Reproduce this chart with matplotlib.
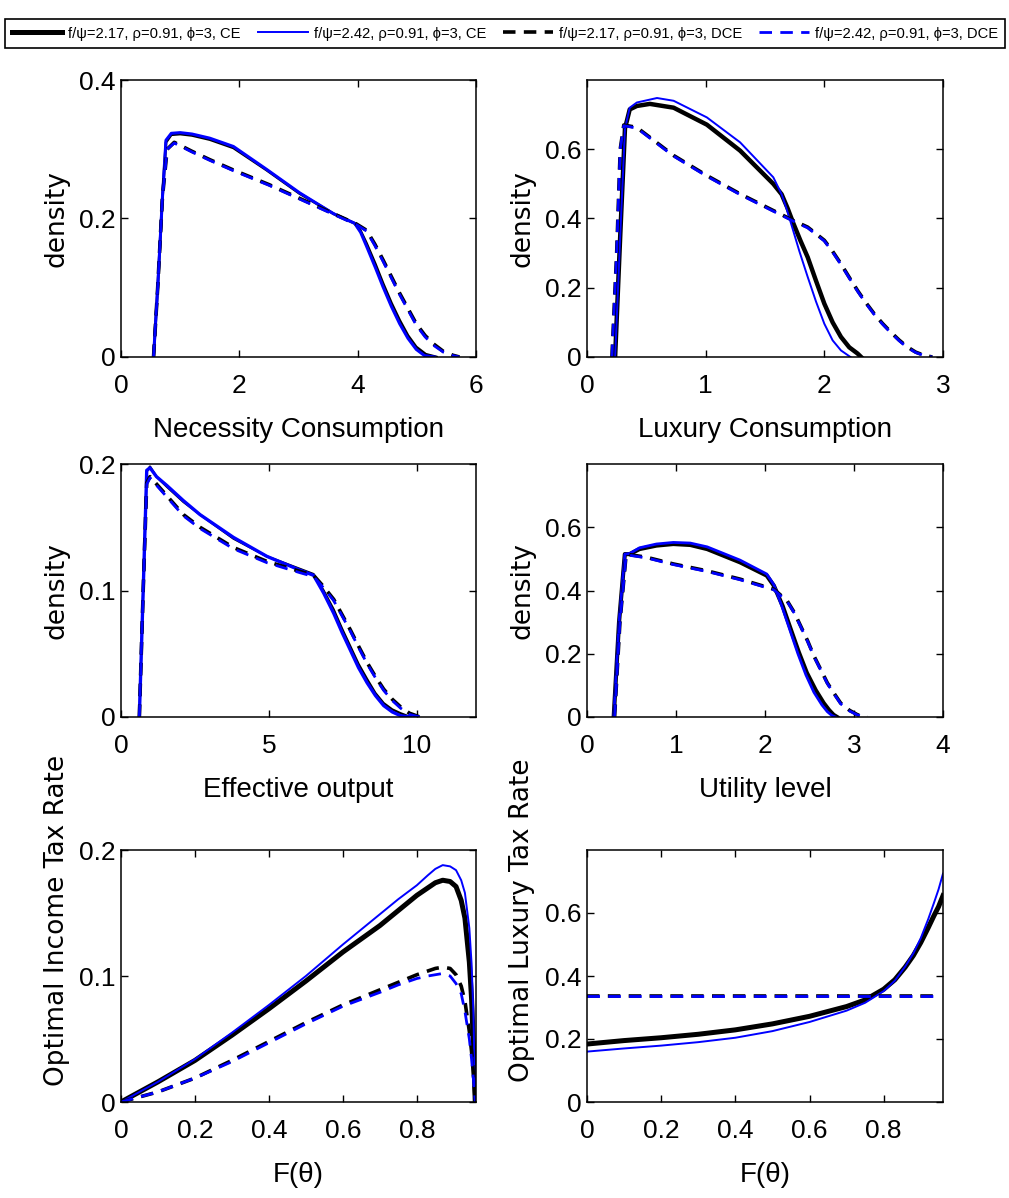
import matplotlib
matplotlib.use("Agg")
import matplotlib.pyplot as plt
from matplotlib import font_manager

# MATLAB-style narrow Helvetica if available, else plain Liberation Sans
names = {f.name for f in font_manager.fontManager.ttflist}
if 'Liberation Sans Narrow' in names:
    BASE = 'Liberation Sans Narrow'
    TICK_FS = 22
    LEG_FS = 12.5
else:
    BASE = 'Liberation Sans'
    TICK_FS = 19
    LEG_FS = 10.6
plt.rcParams['font.family'] = [BASE, 'DejaVu Sans']
plt.rcParams['lines.scale_dashes'] = False

legend_labels = [
    "f/\u03c8=2.17, \u03c1=0.91, \u03d5=3, CE",
    "f/\u03c8=2.42, \u03c1=0.91, \u03d5=3, CE",
    "f/\u03c8=2.17, \u03c1=0.91, \u03d5=3, DCE",
    "f/\u03c8=2.42, \u03c1=0.91, \u03d5=3, DCE",
]

# --- Necessity consumption density ---
nec_ce1_x = [0.55, 0.62, 0.70, 0.76, 0.85, 1.0, 1.2, 1.5, 1.9, 2.46, 3.02, 3.59, 3.95, 4.05, 4.15, 4.30, 4.43, 4.57, 4.71, 4.85, 4.99, 5.15, 5.33]
nec_ce1_y = [0.0, 0.10, 0.23, 0.31, 0.321, 0.322, 0.320, 0.314, 0.302, 0.270, 0.236, 0.207, 0.193, 0.182, 0.164, 0.134, 0.106, 0.078, 0.053, 0.031, 0.0145, 0.004, 0.0]
nec_ce2_x = [0.55, 0.62, 0.70, 0.76, 0.85, 1.0, 1.2, 1.5, 1.9, 2.46, 3.02, 3.59, 3.95, 4.05, 4.15, 4.30, 4.43, 4.57, 4.71, 4.85, 4.99, 5.13, 5.30]
nec_ce2_y = [0.0, 0.10, 0.23, 0.313, 0.323, 0.324, 0.322, 0.316, 0.304, 0.271, 0.237, 0.207, 0.193, 0.180, 0.160, 0.129, 0.101, 0.073, 0.048, 0.027, 0.011, 0.002, 0.0]
nec_dce_x = [0.55, 0.62, 0.70, 0.78, 0.9, 1.2, 1.5, 1.9, 2.5, 3.02, 3.59, 3.98, 4.15, 4.29, 4.43, 4.57, 4.71, 4.85, 4.99, 5.14, 5.28, 5.45, 5.61, 5.72]
nec_dce1_y = [0.0, 0.10, 0.23, 0.30, 0.310, 0.297, 0.285, 0.270, 0.249, 0.229, 0.207, 0.192, 0.183, 0.163, 0.140, 0.116, 0.092, 0.070, 0.048, 0.031, 0.019, 0.008, 0.0025, 0.0]
nec_dce2_y = [0.0, 0.10, 0.23, 0.30, 0.309, 0.296, 0.284, 0.269, 0.248, 0.228, 0.206, 0.191, 0.182, 0.161, 0.138, 0.114, 0.090, 0.068, 0.046, 0.029, 0.017, 0.007, 0.002, 0.0]

# --- Luxury consumption density ---
lux_ce1_x = [0.237, 0.28, 0.32, 0.36, 0.42, 0.53, 0.73, 1.01, 1.29, 1.57, 1.64, 1.69, 1.74, 1.80, 1.86, 1.93, 2.0, 2.07, 2.14, 2.21, 2.28, 2.31]
lux_ce1_y = [0.0, 0.35, 0.66, 0.715, 0.725, 0.731, 0.720, 0.671, 0.596, 0.50, 0.470, 0.430, 0.385, 0.335, 0.288, 0.220, 0.154, 0.100, 0.058, 0.028, 0.010, 0.0]
lux_ce2_x = [0.237, 0.28, 0.32, 0.36, 0.42, 0.59, 0.73, 1.01, 1.29, 1.57, 1.64, 1.68, 1.72, 1.79, 1.86, 1.93, 2.0, 2.07, 2.14, 2.22]
lux_ce2_y = [0.0, 0.35, 0.66, 0.72, 0.735, 0.748, 0.740, 0.692, 0.620, 0.519, 0.47, 0.43, 0.385, 0.305, 0.231, 0.160, 0.096, 0.048, 0.019, 0.0]
lux_dce_x = [0.21, 0.25, 0.28, 0.31, 0.42, 0.73, 1.01, 1.29, 1.57, 1.74, 1.86, 2.0, 2.07, 2.14, 2.21, 2.28, 2.35, 2.42, 2.49, 2.56, 2.63, 2.70, 2.77, 2.84, 2.91]
lux_dce1_y = [0.0, 0.30, 0.60, 0.67, 0.663, 0.582, 0.524, 0.471, 0.423, 0.394, 0.375, 0.337, 0.305, 0.269, 0.230, 0.192, 0.157, 0.125, 0.097, 0.072, 0.049, 0.029, 0.014, 0.005, 0.0]
lux_dce2_y = [0.0, 0.30, 0.60, 0.668, 0.661, 0.580, 0.522, 0.469, 0.421, 0.392, 0.373, 0.335, 0.303, 0.267, 0.228, 0.190, 0.155, 0.123, 0.095, 0.070, 0.047, 0.027, 0.013, 0.004, 0.0]

# --- Effective output density ---
out_x = [0.62, 0.75, 0.87, 0.98, 1.2, 1.55, 2.11, 2.67, 3.80, 4.93, 6.06, 6.51, 6.85, 7.19, 7.47, 7.75, 8.03, 8.32, 8.60, 8.88, 9.17, 9.45, 9.79]
out_ce1_y = [0.0, 0.10, 0.194, 0.198, 0.190, 0.182, 0.170, 0.160, 0.141, 0.127, 0.117, 0.113, 0.100, 0.085, 0.070, 0.056, 0.042, 0.030, 0.019, 0.011, 0.006, 0.003, 0.0]
out_ce2_y = [0.0, 0.10, 0.195, 0.197, 0.190, 0.183, 0.171, 0.160, 0.142, 0.127, 0.116, 0.112, 0.098, 0.082, 0.067, 0.053, 0.039, 0.027, 0.017, 0.009, 0.004, 0.001, 0.0]
out_dce_x = [0.62, 0.75, 0.87, 0.98, 1.32, 2.11, 2.67, 3.80, 4.93, 6.06, 6.51, 6.85, 7.19, 7.47, 7.75, 8.03, 8.32, 8.60, 8.88, 9.17, 9.45, 9.75, 10.1]
out_dce1_y = [0.0, 0.10, 0.185, 0.190, 0.181, 0.160, 0.150, 0.134, 0.123, 0.115, 0.112, 0.103, 0.093, 0.081, 0.069, 0.056, 0.043, 0.032, 0.022, 0.014, 0.008, 0.003, 0.0]
out_dce2_y = [0.0, 0.10, 0.184, 0.189, 0.180, 0.159, 0.149, 0.133, 0.122, 0.114, 0.111, 0.102, 0.092, 0.080, 0.068, 0.055, 0.042, 0.031, 0.021, 0.013, 0.007, 0.002, 0.0]

# --- Utility level density ---
utl_ce1_x = [0.30, 0.36, 0.425, 0.48, 0.59, 0.78, 0.97, 1.16, 1.35, 1.72, 2.02, 2.10, 2.20, 2.29, 2.38, 2.47, 2.57, 2.66, 2.72, 2.77, 2.81]
utl_ce1_y = [0.0, 0.30, 0.515, 0.515, 0.531, 0.542, 0.547, 0.544, 0.531, 0.489, 0.447, 0.415, 0.350, 0.277, 0.205, 0.140, 0.085, 0.044, 0.022, 0.007, 0.0]
utl_ce2_x = [0.30, 0.36, 0.425, 0.48, 0.59, 0.78, 0.97, 1.16, 1.35, 1.72, 2.02, 2.10, 2.19, 2.28, 2.37, 2.46, 2.55, 2.64, 2.70, 2.75, 2.79]
utl_ce2_y = [0.0, 0.30, 0.515, 0.517, 0.535, 0.547, 0.552, 0.550, 0.538, 0.496, 0.452, 0.418, 0.350, 0.275, 0.200, 0.133, 0.078, 0.038, 0.017, 0.005, 0.0]
utl_dce_x = [0.31, 0.37, 0.44, 0.67, 0.97, 1.35, 1.72, 2.10, 2.25, 2.33, 2.40, 2.48, 2.55, 2.63, 2.70, 2.78, 2.85, 2.95, 3.04, 3.15]
utl_dce1_y = [0.0, 0.30, 0.515, 0.505, 0.484, 0.462, 0.436, 0.404, 0.367, 0.330, 0.288, 0.240, 0.193, 0.148, 0.108, 0.073, 0.044, 0.021, 0.007, 0.0]
utl_dce2_y = [0.0, 0.30, 0.513, 0.503, 0.482, 0.460, 0.434, 0.402, 0.365, 0.328, 0.286, 0.238, 0.191, 0.146, 0.106, 0.071, 0.042, 0.019, 0.006, 0.0]

# --- Optimal income tax rate ---
itax_x = [0.0, 0.1, 0.2, 0.3, 0.4, 0.5, 0.6, 0.7, 0.75, 0.80, 0.83, 0.85, 0.87, 0.89, 0.906, 0.92, 0.93, 0.942, 0.948, 0.953, 0.958]
itax_ce1 = [0.0, 0.016, 0.033, 0.053, 0.074, 0.096, 0.119, 0.140, 0.152, 0.164, 0.170, 0.174, 0.176, 0.175, 0.171, 0.160, 0.146, 0.111, 0.082, 0.045, 0.0]
itax_ce2 = [0.0, 0.016, 0.034, 0.055, 0.077, 0.100, 0.125, 0.149, 0.161, 0.172, 0.180, 0.185, 0.188, 0.187, 0.184, 0.176, 0.166, 0.138, 0.110, 0.070, 0.0]
itax_dce1 = [0.0, 0.008, 0.019, 0.033, 0.048, 0.063, 0.077, 0.089, 0.095, 0.101, 0.104, 0.106, 0.107, 0.106, 0.101, 0.092, 0.080, 0.056, 0.040, 0.022, 0.0]
itax_dce2 = [0.0, 0.008, 0.019, 0.032, 0.047, 0.062, 0.076, 0.087, 0.093, 0.098, 0.100, 0.101, 0.102, 0.100, 0.094, 0.086, 0.072, 0.050, 0.034, 0.018, 0.0]

# --- Optimal luxury tax rate ---
ltax_x = [0.0, 0.1, 0.2, 0.3, 0.4, 0.5, 0.6, 0.7, 0.75, 0.8, 0.83, 0.858, 0.88, 0.90, 0.92, 0.935, 0.948, 0.96]
ltax_ce1 = [0.184, 0.195, 0.204, 0.215, 0.229, 0.248, 0.272, 0.303, 0.324, 0.358, 0.388, 0.428, 0.465, 0.506, 0.553, 0.590, 0.620, 0.655]
ltax_ce2 = [0.160, 0.170, 0.179, 0.190, 0.204, 0.225, 0.254, 0.290, 0.315, 0.352, 0.385, 0.430, 0.472, 0.520, 0.580, 0.630, 0.675, 0.725]
ltax_dce_x = [0.0, 0.935]
ltax_dce1 = [0.336, 0.336]
ltax_dce2 = [0.335, 0.335]

fig = plt.figure(figsize=(10.09, 11.98), dpi=100)

W, H = 1009.0, 1198.0
def add_axes(l, t, r, b):
    return fig.add_axes([l / W, 1 - b / H, (r - l) / W, (b - t) / H])

ax1 = add_axes(121, 80, 476, 357)
ax2 = add_axes(587, 80, 943, 357)
ax3 = add_axes(121, 464, 476, 717)
ax4 = add_axes(587, 464, 943, 717)
ax5 = add_axes(121, 850, 476, 1102)
ax6 = add_axes(587, 850, 943, 1102)

DASH = (0, (9, 6))

def draw(ax, s1, s2, s3, s4, lw1=3.2, lw2=1.4, lw3=2.6, lw4=2.0):
    h1, = ax.plot(*s1, color='black', lw=lw1)
    h2, = ax.plot(*s2, color='#0000ff', lw=lw2)
    h3, = ax.plot(*s3, color='black', lw=lw3, linestyle=DASH)
    h4, = ax.plot(*s4, color='#0000ff', lw=lw4, linestyle=DASH)
    return [h1, h2, h3, h4]

draw(ax1, (nec_ce1_x, nec_ce1_y), (nec_ce2_x, nec_ce2_y),
     (nec_dce_x, nec_dce1_y), (nec_dce_x, nec_dce2_y), lw1=2.0, lw2=2.2)
draw(ax2, (lux_ce1_x, lux_ce1_y), (lux_ce2_x, lux_ce2_y),
     (lux_dce_x, lux_dce1_y), (lux_dce_x, lux_dce2_y))
draw(ax3, (out_x, out_ce1_y), (out_x, out_ce2_y),
     (out_dce_x, out_dce1_y), (out_dce_x, out_dce2_y), lw1=1.6, lw2=2.4)
draw(ax4, (utl_ce1_x, utl_ce1_y), (utl_ce2_x, utl_ce2_y),
     (utl_dce_x, utl_dce1_y), (utl_dce_x, utl_dce2_y), lw1=3.0, lw2=2.0)
draw(ax5, (itax_x, itax_ce1), (itax_x, itax_ce2),
     (itax_x, itax_dce1), (itax_x, itax_dce2), lw1=3.6)
handles = draw(ax6, (ltax_x, ltax_ce1), (ltax_x, ltax_ce2),
               (ltax_dce_x, ltax_dce1), (ltax_dce_x, ltax_dce2), lw1=3.6)

settings = [
    (ax1, (0, 6), [0, 2, 4, 6], (0, 0.4), [0, 0.2, 0.4], "Necessity Consumption", "density"),
    (ax2, (0, 3), [0, 1, 2, 3], (0, 0.8), [0, 0.2, 0.4, 0.6], "Luxury Consumption", "density"),
    (ax3, (0, 12), [0, 5, 10], (0, 0.2), [0, 0.1, 0.2], "Effective output", "density"),
    (ax4, (0, 4), [0, 1, 2, 3, 4], (0, 0.8), [0, 0.2, 0.4, 0.6], "Utility level", "density"),
    (ax5, (0, 0.96), [0, 0.2, 0.4, 0.6, 0.8], (0, 0.2), [0, 0.1, 0.2], "F(\u03b8)", "Optimal Income Tax Rate"),
    (ax6, (0, 0.96), [0, 0.2, 0.4, 0.6, 0.8], (0, 0.8), [0, 0.2, 0.4, 0.6], "F(\u03b8)", "Optimal Luxury Tax Rate"),
]

for i, (ax, xl, xt, yl, yt, xlab, ylab) in enumerate(settings):
    ax.set_xlim(*xl)
    ax.set_ylim(*yl)
    ax.set_xticks(xt)
    ax.set_yticks(yt)
    ax.set_xticklabels([f"{v:g}" for v in xt])
    ax.set_yticklabels([f"{v:g}" for v in yt])
    ax.tick_params(direction='in', top=True, right=True, length=5, width=1,
                   labelsize=TICK_FS)
    ax.tick_params(axis='x', pad=12)
    ax.tick_params(axis='y', pad=4)
    for sp in ax.spines.values():
        sp.set_linewidth(1.1)
    ax.set_xlabel(xlab, fontsize=TICK_FS + 1, labelpad=14)
    ax.set_ylabel(ylab, fontsize=19, family='DejaVu Sans')
    ycoord = 0.72 if i >= 4 else 0.5
    ax.yaxis.set_label_coords(-0.145, ycoord)

leg = fig.legend(handles, legend_labels, loc='lower left', ncol=4, mode='expand',
                 bbox_to_anchor=(5 / W, 1 - 48 / H, 1000 / W, 33 / H),
                 borderaxespad=0, fontsize=LEG_FS, handlelength=3.4,
                 handletextpad=0.4, columnspacing=1.0, borderpad=0.5,
                 fancybox=False, framealpha=1, edgecolor='black')
leg.get_frame().set_linewidth(1.2)

fig.savefig("out.png", dpi=100)
